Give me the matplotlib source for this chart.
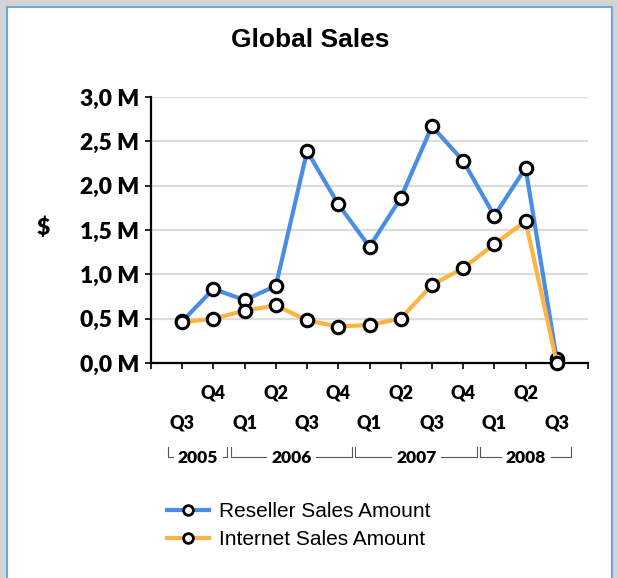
import matplotlib.pyplot as plt
import matplotlib.transforms as mtransforms
from matplotlib.patches import Rectangle
from matplotlib.lines import Line2D
from matplotlib.ticker import FuncFormatter

# quarterly sales, 2005 Q3 .. 2008 Q3 (millions of $)
quarters = ['Q3', 'Q4', 'Q1', 'Q2', 'Q3', 'Q4', 'Q1', 'Q2', 'Q3', 'Q4', 'Q1', 'Q2', 'Q3']
years = ['2005', '2006', '2007', '2008']
year_counts = [2, 4, 4, 3]
reseller = [0.47, 0.835, 0.71, 0.87, 2.39, 1.79, 1.31, 1.86, 2.67, 2.28, 1.66, 2.20, 0.04]
internet = [0.46, 0.50, 0.59, 0.65, 0.48, 0.41, 0.43, 0.50, 0.88, 1.07, 1.34, 1.60, 0.0]
yticks = [0, 0.5, 1.0, 1.5, 2.0, 2.5, 3.0]

blue = '#4A8DE6'
orange = '#FDB441'
W, H = 618, 578

fig = plt.figure(figsize=(W / 100, H / 100), dpi=100)
fig.patch.set_facecolor('#D4D4D4')
fig.patches.append(Rectangle((7 / W, -0.05), 605 / W, 1.05 - 7 / H, transform=fig.transFigure,
                             facecolor='white', edgecolor='#6FA6DC', linewidth=1.5, zorder=-5))

ax = fig.add_axes([151 / W, 1 - 363 / H, 437 / W, 266 / H])
ax.set_facecolor('none')

x = list(range(len(quarters)))
for vals, col, lab in [(reseller, blue, 'Reseller Sales Amount'), (internet, orange, 'Internet Sales Amount')]:
    ax.plot(x, vals, color=col, lw=3, marker='o', ms=9, mfc='white', mec='black', mew=2.2,
            label=lab, clip_on=False, zorder=3)

ax.set_xlim(-1, 13)
ax.set_ylim(0, 3.0)
ax.set_yticks(yticks)
ax.yaxis.set_major_formatter(FuncFormatter(lambda v, p: ('%.1f M' % v).replace('.', ',')))
ax.set_xticks(range(-1, 14))
ax.set_xticklabels([])
for t in ax.get_yticklabels():
    t.set_fontfamily('Lato')
    t.set_fontweight('heavy')
    t.set_fontsize(16.5)
ax.tick_params(axis='both', length=4.5, width=1.2, color='black', pad=4)
ax.grid(axis='y', color='#DCDCDC', lw=1.6)
ax.set_axisbelow(True)
for s in ['top', 'right']:
    ax.spines[s].set_visible(False)
for s in ['left', 'bottom']:
    ax.spines[s].set_linewidth(1.6)

# quarter labels on two staggered rows
tr = mtransforms.blended_transform_factory(ax.transData, fig.transFigure)
for i, q in enumerate(quarters):
    yy = 1 - (393 if i % 2 else 423) / H
    ax.text(i, yy, q, transform=tr, ha='center', va='center', fontsize=13,
            fontweight='heavy', fontfamily='Lato')

# year brackets
start = 0
for yr, n in zip(years, year_counts):
    x0, x1 = start - 0.5 + 0.05, start + n - 1 + 0.5 - 0.05
    xc = (x0 + x1) / 2
    ytop, ybot = 1 - 447 / H, 1 - 457 / H
    gap = 0.8
    ax.plot([x0, x0, xc - gap], [ytop, ybot, ybot], transform=tr, color='#555555', lw=0.8, clip_on=False)
    ax.plot([xc + gap, x1, x1], [ybot, ybot, ytop], transform=tr, color='#555555', lw=0.8, clip_on=False)
    ax.text(xc, 1 - 458 / H, yr, transform=tr, ha='center', va='center', fontsize=12.5,
            fontweight='heavy', fontfamily='Lato')
    start += n

fig.text(43 / W, 1 - 228 / H, '$', ha='center', va='center', fontsize=16.5, fontweight='heavy', fontfamily='Lato')
fig.text(310 / W, 1 - 40 / H, 'Global Sales', ha='center', va='center', fontsize=19,
         fontweight='bold', fontfamily='Liberation Sans')

handles = [Line2D([], [], color=c, lw=3, marker='o', ms=7, mfc='white', mec='black', mew=2)
           for c in (blue, orange)]
fig.legend(handles, ['Reseller Sales Amount', 'Internet Sales Amount'], loc='upper left',
           bbox_to_anchor=(167 / W, 1 - 502 / H), frameon=False, borderpad=0, borderaxespad=0,
           handlelength=2.0, handletextpad=0.5, labelspacing=0.45,
           prop={'family': 'Liberation Sans', 'size': 15})

fig.savefig('out.png', dpi=100, facecolor=fig.get_facecolor())
